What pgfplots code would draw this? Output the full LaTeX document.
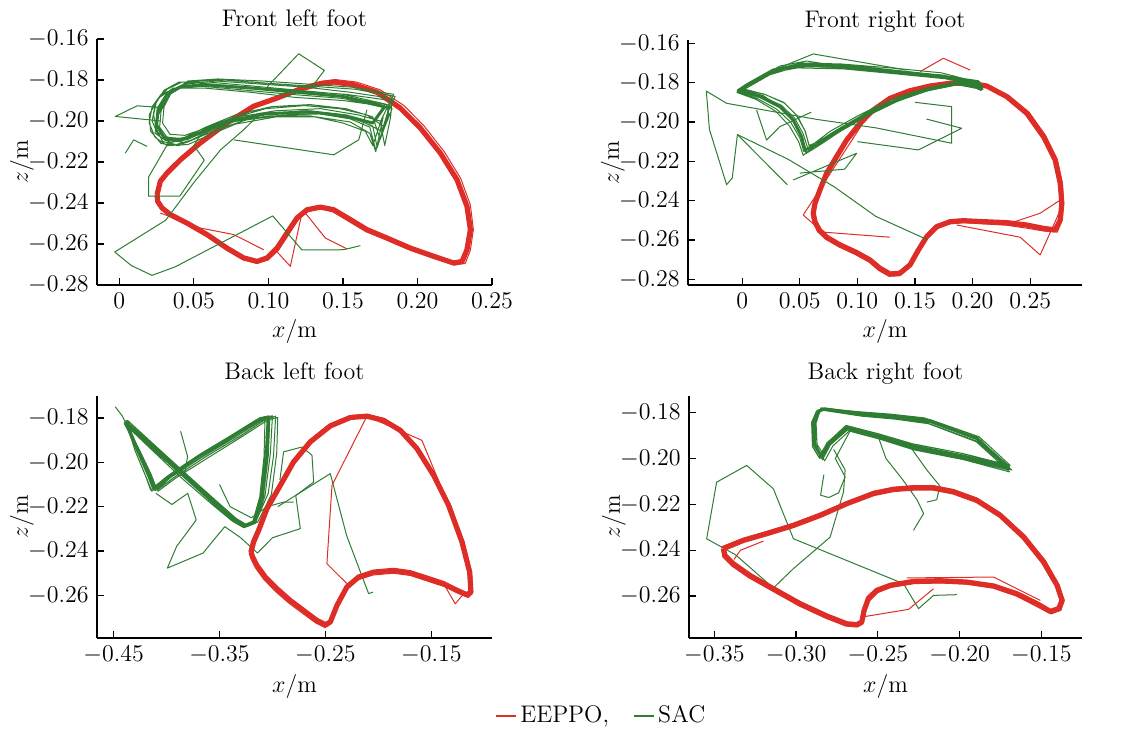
\documentclass[12pt,border=0pt]{standalone}
\usepackage{pgfplots}
\pgfplotsset{compat=1.18}
\definecolor{eeppo}{RGB}{222,45,38}
\definecolor{sac}{RGB}{46,125,50}
\pgfplotsset{
  panel/.style={scale only axis, anchor=south west, axis lines=left,
    axis line style={-,line width=0.6pt}, tick align=inside, major tick length=3.5pt,
    tick style={black,line width=0.6pt}, xlabel={$x$/m}, ylabel={$z$/m},
    yticklabel style={/pgf/number format/.cd,fixed,fixed zerofill,precision=2},
    xticklabel style={/pgf/number format/.cd,fixed,fixed zerofill,precision=2},
    scaled ticks=false, xlabel style={yshift=3pt},
    ylabel shift=-11pt},
  toptitle/.style={title style={at={(0.5,1)}, anchor=base, yshift=0pt}},
  bottitle/.style={title style={at={(0.5,1)}, anchor=base, yshift=2pt}},
  r/.style={color=eeppo, line width=0.5pt, line join=round, forget plot},
  rb/.style={color=eeppo, line width=2.6pt, line join=round, forget plot},
  g/.style={color=sac, line width=0.5pt, line join=round, forget plot},
  gb/.style={color=sac, line width=1.5pt, line join=round, forget plot},
}
\begin{document}
\begin{tikzpicture}
\useasboundingbox (0,0) rectangle (561.5pt,366pt);
%%%%%%%%%%%%%%%% Front left foot
\begin{axis}[panel, toptitle, at={(48.5pt,223.5pt)}, width=197.5pt, height=123pt,
  xmin=-0.015, xmax=0.25, ymin=-0.28, ymax=-0.16,
  xtick={0,0.05,0.10,0.15,0.20,0.25}, xticklabels={$0$,$0.05$,$0.10$,$0.15$,$0.20$,$0.25$},
  ytick={-0.28,-0.26,-0.24,-0.22,-0.20,-0.18,-0.16}, title={Front left foot}]
\addplot[rb] coordinates {(0.0253,-0.2359) (0.0275,-0.2294) (0.032,-0.2254) (0.041,-0.2189) (0.0543,-0.2107) (0.0722,-0.2010) (0.0901,-0.1928) (0.1058,-0.1888) (0.1214,-0.1844) (0.1348,-0.1818) (0.1438,-0.1810) (0.1572,-0.1823) (0.1729,-0.1860) (0.1885,-0.1937) (0.2019,-0.2034) (0.2153,-0.2156) (0.2265,-0.2286) (0.2332,-0.2416) (0.2355,-0.2530) (0.2332,-0.2628) (0.2299,-0.2685) (0.2243,-0.2693) (0.2109,-0.2660) (0.1952,-0.2620) (0.1796,-0.2571) (0.1661,-0.2530) (0.1550,-0.2481) (0.1438,-0.2433) (0.1348,-0.2420) (0.1259,-0.2433) (0.1192,-0.2473) (0.1125,-0.2546) (0.1058,-0.2620) (0.0991,-0.2668) (0.0924,-0.2685) (0.0834,-0.2668) (0.0722,-0.2620) (0.0588,-0.2554) (0.0454,-0.2498) (0.0342,-0.2457) (0.0286,-0.2424) (0.0257,-0.2392) (0.0253,-0.2359)};
\addplot[r] coordinates {(0.0265,-0.2350) (0.0290,-0.2285) (0.0335,-0.2245) (0.0425,-0.2180) (0.0560,-0.2098) (0.0740,-0.2002) (0.0915,-0.1920) (0.1070,-0.1878) (0.1225,-0.1833) (0.1360,-0.1806) (0.1450,-0.1798) (0.1590,-0.1810) (0.1750,-0.1848) (0.1910,-0.1925) (0.2045,-0.2025) (0.2180,-0.2150) (0.2290,-0.2280) (0.2355,-0.2410) (0.2375,-0.2530) (0.2355,-0.2630) (0.2320,-0.2695) (0.2250,-0.2702) (0.2100,-0.2668) (0.1945,-0.2628) (0.1790,-0.2580) (0.1655,-0.2540) (0.1540,-0.2490) (0.1430,-0.2442) (0.1355,-0.2428) (0.1268,-0.2440) (0.1200,-0.2480) (0.1135,-0.2555) (0.1068,-0.2630) (0.0998,-0.2678) (0.0920,-0.2694) (0.0828,-0.2676) (0.0715,-0.2628) (0.0580,-0.2560) (0.0448,-0.2505) (0.0335,-0.2462) (0.0278,-0.2428) (0.0250,-0.2395) (0.0265,-0.2350)};
\addplot[r] coordinates {(0.0275,-0.2449) (0.0543,-0.2522) (0.0767,-0.2554) (0.0968,-0.2628)};
\addplot[r] coordinates {(0.1225,-0.2449) (0.1147,-0.2709) (0.1060,-0.2640)};
\addplot[r] coordinates {(0.1248,-0.2449) (0.1382,-0.2571) (0.1527,-0.2624)};
\addplot[gb] coordinates {(0.178,-0.193) (0.150,-0.188) (0.120,-0.186) (0.090,-0.184) (0.060,-0.1825) (0.042,-0.183) (0.032,-0.187) (0.026,-0.194) (0.025,-0.202) (0.030,-0.208) (0.040,-0.2095) (0.054,-0.206) (0.072,-0.2005) (0.098,-0.1965) (0.128,-0.1955) (0.152,-0.1975) (0.170,-0.201) (0.178,-0.193)};
\addplot[g] coordinates {(0.180,-0.192) (0.150,-0.187) (0.120,-0.185) (0.090,-0.183) (0.060,-0.181) (0.040,-0.181) (0.030,-0.185) (0.024,-0.192) (0.022,-0.200) (0.026,-0.207) (0.034,-0.2105) (0.046,-0.209) (0.060,-0.204) (0.080,-0.198) (0.105,-0.195) (0.135,-0.194) (0.160,-0.197) (0.175,-0.200) (0.178,-0.212) (0.182,-0.198)
(0.183,-0.189) (0.155,-0.186) (0.125,-0.1835) (0.095,-0.182) (0.065,-0.1805) (0.045,-0.182) (0.034,-0.187) (0.028,-0.195) (0.027,-0.203) (0.032,-0.208) (0.042,-0.2085) (0.055,-0.205) (0.072,-0.2) (0.100,-0.196) (0.130,-0.196) (0.155,-0.199) (0.168,-0.203) (0.172,-0.214) (0.179,-0.200)
(0.181,-0.194) (0.150,-0.189) (0.115,-0.187) (0.085,-0.185) (0.055,-0.183) (0.036,-0.184) (0.026,-0.189) (0.020,-0.197) (0.021,-0.205) (0.028,-0.211) (0.040,-0.212) (0.052,-0.208) (0.068,-0.202) (0.095,-0.197) (0.125,-0.195) (0.150,-0.197) (0.165,-0.201) (0.176,-0.205) (0.180,-0.196)
(0.185,-0.188) (0.158,-0.1845) (0.128,-0.183) (0.098,-0.1815) (0.070,-0.180) (0.048,-0.1805) (0.036,-0.1845) (0.030,-0.191) (0.025,-0.199) (0.024,-0.206) (0.031,-0.2095) (0.044,-0.208) (0.058,-0.203) (0.078,-0.197) (0.102,-0.193) (0.128,-0.192) (0.152,-0.194) (0.170,-0.198) (0.175,-0.209) (0.181,-0.197)
(0.179,-0.192) (0.148,-0.188) (0.118,-0.186) (0.088,-0.184) (0.058,-0.1825) (0.040,-0.1835) (0.031,-0.188) (0.026,-0.196) (0.025,-0.204) (0.029,-0.210) (0.038,-0.2115) (0.050,-0.209) (0.064,-0.2045) (0.085,-0.1995) (0.110,-0.197) (0.138,-0.1965) (0.158,-0.199) (0.170,-0.2025) (0.173,-0.213) (0.178,-0.201)
(0.182,-0.190) (0.152,-0.187) (0.122,-0.1855) (0.092,-0.184) (0.062,-0.182) (0.042,-0.181) (0.032,-0.1845) (0.025,-0.190) (0.023,-0.197) (0.025,-0.205) (0.033,-0.2095) (0.045,-0.2105) (0.058,-0.2065) (0.075,-0.2005) (0.100,-0.1975) (0.128,-0.1975) (0.150,-0.201) (0.165,-0.205) (0.170,-0.212) (0.176,-0.199)
(0.184,-0.187) (0.156,-0.1835) (0.126,-0.182) (0.096,-0.1805) (0.066,-0.1795) (0.046,-0.1805) (0.035,-0.186) (0.030,-0.193) (0.029,-0.201) (0.034,-0.2065) (0.044,-0.207) (0.058,-0.2035) (0.074,-0.199) (0.098,-0.194) (0.124,-0.1925) (0.148,-0.194) (0.166,-0.197) (0.178,-0.203) (0.183,-0.194)
(0.180,-0.193) (0.150,-0.190) (0.118,-0.1885) (0.088,-0.186) (0.058,-0.184) (0.038,-0.184) (0.028,-0.187) (0.022,-0.193) (0.020,-0.201) (0.024,-0.208) (0.032,-0.212) (0.046,-0.2115) (0.060,-0.207) (0.078,-0.2015) (0.105,-0.198) (0.132,-0.198) (0.155,-0.2005) (0.168,-0.206) (0.172,-0.215) (0.177,-0.198)};
\addplot[g] coordinates {(0.1617,-0.2608) (0.1505,-0.2628) (0.1225,-0.2629) (0.1029,-0.2463) (0.0373,-0.2712) (0.0219,-0.2753) (0.008,-0.2705) (-0.0031,-0.2639) (0.0311,-0.2484) (0.050,-0.2300) (0.068,-0.2140) (0.0832,-0.2044) (0.095,-0.1960)};
\addplot[g] coordinates {(0.028,-0.2000) (-0.0027,-0.1978) (0.0119,-0.1926) (0.030,-0.1935)};
\addplot[g] coordinates {(0.004,-0.2157) (0.0096,-0.2092) (0.0186,-0.2124)};
\addplot[g] coordinates {(0.035,-0.2080) (0.0197,-0.2272) (0.0197,-0.2367) (0.0405,-0.2367) (0.0570,-0.2191) (0.050,-0.2120) (0.056,-0.2050)};
\addplot[g] coordinates {(0.0991,-0.1834) (0.1203,-0.1672) (0.1375,-0.1753) (0.1292,-0.1834)};
\addplot[g] coordinates {(0.0767,-0.2092) (0.1438,-0.2165) (0.1606,-0.2092) (0.1661,-0.1945)};
\end{axis}
%%%%%%%%%%%%%%%% Front right foot
\begin{axis}[panel, toptitle, at={(344pt,223.5pt)}, width=197pt, height=122.5pt,
  xmin=-0.047, xmax=0.295, ymin=-0.2829, ymax=-0.1583,
  xtick={0,0.05,0.10,0.15,0.20,0.25}, xticklabels={$0$,$0.05$,$0.10$,$0.15$,$0.20$,$0.25$},
  ytick={-0.28,-0.26,-0.24,-0.22,-0.20,-0.18,-0.16}, title={Front right foot}]
\addplot[rb] coordinates {(0.0617,-0.2464) (0.0632,-0.2414) (0.0675,-0.2346) (0.0733,-0.2261) (0.0820,-0.2176) (0.0907,-0.2092) (0.1023,-0.2007) (0.1138,-0.1939) (0.1283,-0.1880) (0.1457,-0.1841) (0.1631,-0.1817) (0.1805,-0.1803) (0.1979,-0.1803) (0.2123,-0.1817) (0.2297,-0.1871) (0.2471,-0.1956) (0.2616,-0.2075) (0.2717,-0.2193) (0.2761,-0.2312) (0.2775,-0.2414) (0.2761,-0.2498) (0.2717,-0.2549) (0.2616,-0.2541) (0.2471,-0.2524) (0.2297,-0.2512) (0.2094,-0.2507) (0.1921,-0.2502) (0.1805,-0.2507) (0.1689,-0.2532) (0.1602,-0.2583) (0.1530,-0.2651) (0.1457,-0.2727) (0.1370,-0.2769) (0.1283,-0.2773) (0.1196,-0.2744) (0.1110,-0.2702) (0.0994,-0.2664) (0.0849,-0.2625) (0.0733,-0.2586) (0.0669,-0.2549) (0.0632,-0.2507) (0.0617,-0.2464)};
\addplot[r] coordinates {(0.0600,-0.2470) (0.0615,-0.2420) (0.0660,-0.2350) (0.0720,-0.2265) (0.0808,-0.2180) (0.0895,-0.2095) (0.1010,-0.2010) (0.1125,-0.1942) (0.1270,-0.1882) (0.1445,-0.1842) (0.1620,-0.1815) (0.1800,-0.1798) (0.1985,-0.1798) (0.2135,-0.1812) (0.2315,-0.1866) (0.2490,-0.1950) (0.2635,-0.2070) (0.2735,-0.2190) (0.2780,-0.2312) (0.2790,-0.2415) (0.2775,-0.2505) (0.2735,-0.2560) (0.2620,-0.2555) (0.2470,-0.2540) (0.2295,-0.2525) (0.2094,-0.2518) (0.1921,-0.2512) (0.1800,-0.2518) (0.1680,-0.2545) (0.1590,-0.2595) (0.1518,-0.2665) (0.1445,-0.2742) (0.1365,-0.2782) (0.1275,-0.2785) (0.1185,-0.2755) (0.1100,-0.2712) (0.0985,-0.2675) (0.0840,-0.2635) (0.0722,-0.2595) (0.0655,-0.2558) (0.0617,-0.2512) (0.0600,-0.2470)};
\addplot[r] coordinates {(0.110,-0.196) (0.0530,-0.2473) (0.0700,-0.2560) (0.1283,-0.2586)};
\addplot[r] coordinates {(0.1544,-0.1744) (0.1747,-0.1676) (0.1979,-0.1736)};
\addplot[r] coordinates {(0.1863,-0.2524) (0.2413,-0.2586) (0.2587,-0.2676) (0.2775,-0.2431)};
\addplot[r] coordinates {(0.2300,-0.2520) (0.2587,-0.2464) (0.2761,-0.2397)};
\addplot[gb] coordinates {(0.2065,-0.1803) (0.1747,-0.1769) (0.1312,-0.1744) (0.0878,-0.1719) (0.0501,-0.1710) (0.0269,-0.1736) (0.0038,-0.1812) (-0.0035,-0.1841) (0.0154,-0.1871) (0.0327,-0.1922) (0.0443,-0.1990) (0.0516,-0.2075) (0.0545,-0.2142) (0.0617,-0.2125) (0.0791,-0.2058) (0.1023,-0.1981) (0.1312,-0.1897) (0.1602,-0.1837) (0.1892,-0.1803) (0.2080,-0.1829)};
\addplot[g] coordinates {(0.2065,-0.1803) (0.1747,-0.1769) (0.1312,-0.1744) (0.0878,-0.1719) (0.0501,-0.1710) (0.0269,-0.1736) (0.0038,-0.1812) (-0.0035,-0.1841) (0.0154,-0.1871) (0.0327,-0.1922) (0.0443,-0.1990) (0.0516,-0.2075) (0.0545,-0.2142) (0.0617,-0.2125) (0.0791,-0.2058) (0.1023,-0.1981) (0.1312,-0.1897) (0.1602,-0.1837) (0.1892,-0.1803) (0.2080,-0.1829)
(0.2050,-0.1790) (0.1700,-0.1760) (0.1300,-0.1735) (0.0900,-0.1710) (0.0520,-0.1700) (0.0300,-0.1730) (0.0080,-0.1800) (-0.0020,-0.1835) (0.0180,-0.1865) (0.0350,-0.1930) (0.0460,-0.2010) (0.0525,-0.2090) (0.0560,-0.2155) (0.0640,-0.2130) (0.0820,-0.2060) (0.1050,-0.1975) (0.1350,-0.1890) (0.1650,-0.1830) (0.1920,-0.1800) (0.2075,-0.1840)
(0.2070,-0.1815) (0.1760,-0.1780) (0.1330,-0.1755) (0.0880,-0.1730) (0.0480,-0.1725) (0.0250,-0.1750) (0.0060,-0.1820) (-0.0040,-0.1845) (0.0130,-0.1880) (0.0300,-0.1935) (0.0420,-0.2000) (0.0500,-0.2080) (0.0535,-0.2150) (0.0600,-0.2120) (0.0770,-0.2045) (0.1000,-0.1970) (0.1290,-0.1885) (0.1580,-0.1830) (0.1870,-0.1795) (0.2085,-0.1825)
(0.2060,-0.1800) (0.1730,-0.1750) (0.1290,-0.1725) (0.0860,-0.1705) (0.0510,-0.1700) (0.0280,-0.1745) (0.0050,-0.1815) (-0.0030,-0.1840) (0.0170,-0.1868) (0.0340,-0.1915) (0.0455,-0.1980) (0.0530,-0.2060) (0.0570,-0.2135) (0.0650,-0.2115) (0.0830,-0.2040) (0.1070,-0.1960) (0.1370,-0.1875) (0.1660,-0.1825) (0.1930,-0.1805) (0.2070,-0.1835)
(0.2080,-0.1810) (0.1770,-0.1775) (0.1340,-0.1750) (0.0900,-0.1725) (0.0530,-0.1715) (0.0310,-0.1735) (0.0100,-0.1790) (0.0000,-0.1830) (0.0200,-0.1860) (0.0370,-0.1905) (0.0480,-0.1970) (0.0550,-0.2050) (0.0580,-0.2120) (0.0660,-0.2100) (0.0850,-0.2030) (0.1090,-0.1950) (0.1390,-0.1870) (0.1690,-0.1820) (0.1950,-0.1800) (0.2060,-0.1820)
(0.2050,-0.1805) (0.1720,-0.1765) (0.1280,-0.1740) (0.0850,-0.1715) (0.0470,-0.1720) (0.0240,-0.1760) (0.0030,-0.1830) (-0.0045,-0.1850) (0.0120,-0.1885) (0.0290,-0.1945) (0.0410,-0.2020) (0.0490,-0.2100) (0.0530,-0.2170) (0.0590,-0.2140) (0.0760,-0.2070) (0.0990,-0.1990) (0.1280,-0.1905) (0.1570,-0.1845) (0.1860,-0.1810) (0.2090,-0.1835)
(0.2060,-0.1795) (0.1740,-0.1770) (0.1320,-0.1745) (0.0890,-0.1720) (0.0560,-0.1690) (0.0330,-0.1715) (0.0090,-0.1795) (-0.0010,-0.1832) (0.0190,-0.1858) (0.0360,-0.1900) (0.0470,-0.1965) (0.0545,-0.2045) (0.0585,-0.2125) (0.0670,-0.2110) (0.0860,-0.2045) (0.1100,-0.1965) (0.1400,-0.1880) (0.1700,-0.1825) (0.1960,-0.1800) (0.2085,-0.1815)
(0.2070,-0.1808) (0.1750,-0.1762) (0.1300,-0.1738) (0.0870,-0.1712) (0.0500,-0.1705) (0.0270,-0.1740) (0.0060,-0.1808) (-0.0030,-0.1843) (0.0160,-0.1875) (0.0330,-0.1925) (0.0450,-0.1995) (0.0520,-0.2075) (0.0555,-0.2160) (0.0625,-0.2135) (0.0800,-0.2060) (0.1030,-0.1978) (0.1320,-0.1893) (0.1610,-0.1835) (0.1900,-0.1803) (0.2065,-0.1828)};
\addplot[g] coordinates {(0.0392,-0.2319) (-0.0041,-0.2064) (-0.0086,-0.2285) (-0.0135,-0.2319) (-0.0284,-0.2038) (-0.0311,-0.1843) (-0.0135,-0.1905) (0.0649,-0.1987) (0.1162,-0.2030) (0.1819,-0.2108) (0.1819,-0.1922) (0.1500,-0.1900)};
\addplot[g] coordinates {(-0.0041,-0.2064) (0.0400,-0.2190) (0.0800,-0.2330) (0.1160,-0.2480) (0.1602,-0.2597)};
\addplot[g] coordinates {(0.0125,-0.1939) (0.0212,-0.2092) (0.0327,-0.2024) (0.0600,-0.1950)};
\addplot[g] coordinates {(0.0443,-0.2295) (0.0994,-0.2159) (0.0890,-0.2240) (0.0500,-0.2260)};
\addplot[g] coordinates {(0.1000,-0.2100) (0.1530,-0.2142) (0.1906,-0.2032) (0.1600,-0.1985)};
\addplot[g] coordinates {(0.0300,-0.1730) (0.0617,-0.1654) (0.1428,-0.1736)};
\end{axis}
%%%%%%%%%%%%%%%% Back left foot
\begin{axis}[panel, bottitle, at={(48.5pt,47pt)}, width=197.5pt, height=121pt,
  xmin=-0.4657, xmax=-0.0927, ymin=-0.2792, ymax=-0.1701,
  xtick={-0.45,-0.35,-0.25,-0.15},
  ytick={-0.26,-0.24,-0.22,-0.20,-0.18}, title={Back left foot}]
\addplot[gb] coordinates {(-0.4390,-0.1818) (-0.4154,-0.1923) (-0.3839,-0.2059) (-0.3556,-0.2179) (-0.3367,-0.2254) (-0.3257,-0.2284) (-0.3178,-0.2269) (-0.3099,-0.2149) (-0.3052,-0.1968) (-0.3036,-0.1795) (-0.3115,-0.1803) (-0.3367,-0.1878) (-0.3682,-0.1968) (-0.3965,-0.2059) (-0.4122,-0.2119) (-0.4170,-0.2059) (-0.4280,-0.1940) (-0.4390,-0.1818)};
\addplot[g] coordinates {(-0.4390,-0.1818) (-0.4154,-0.1923) (-0.3839,-0.2059) (-0.3556,-0.2179) (-0.3367,-0.2254) (-0.3257,-0.2284) (-0.3178,-0.2269) (-0.3099,-0.2149) (-0.3052,-0.1968) (-0.3036,-0.1795) (-0.3115,-0.1803) (-0.3367,-0.1878) (-0.3682,-0.1968) (-0.3965,-0.2059) (-0.4122,-0.2119) (-0.4170,-0.2059) (-0.4280,-0.1940)
(-0.4370,-0.1810) (-0.4130,-0.1915) (-0.3820,-0.2050) (-0.3540,-0.2170) (-0.3350,-0.2250) (-0.3240,-0.2290) (-0.3160,-0.2275) (-0.3070,-0.2150) (-0.3020,-0.1960) (-0.3000,-0.1790) (-0.3080,-0.1800) (-0.3330,-0.1870) (-0.3650,-0.1960) (-0.3940,-0.2050) (-0.4100,-0.2110) (-0.4150,-0.2050) (-0.4265,-0.1935)
(-0.4400,-0.1825) (-0.4170,-0.1930) (-0.3860,-0.2070) (-0.3570,-0.2190) (-0.3380,-0.2265) (-0.3270,-0.2295) (-0.3190,-0.2280) (-0.3110,-0.2160) (-0.3070,-0.1980) (-0.3050,-0.1805) (-0.3130,-0.1812) (-0.3390,-0.1890) (-0.3700,-0.1985) (-0.3990,-0.2075) (-0.4140,-0.2130) (-0.4190,-0.2070) (-0.4295,-0.1950)
(-0.4380,-0.1815) (-0.4140,-0.1918) (-0.3830,-0.2052) (-0.3550,-0.2172) (-0.3360,-0.2248) (-0.3250,-0.2280) (-0.3150,-0.2260) (-0.3040,-0.2140) (-0.2990,-0.1970) (-0.2970,-0.1792) (-0.3060,-0.1805) (-0.3300,-0.1880) (-0.3630,-0.1975) (-0.3920,-0.2065) (-0.4090,-0.2125) (-0.4160,-0.2065) (-0.4270,-0.1945)
(-0.4395,-0.1822) (-0.4160,-0.1928) (-0.3845,-0.2064) (-0.3560,-0.2186) (-0.3370,-0.2262) (-0.3262,-0.2292) (-0.3190,-0.2278) (-0.3120,-0.2155) (-0.3080,-0.1975) (-0.3070,-0.1800) (-0.3150,-0.1808) (-0.3400,-0.1882) (-0.3720,-0.1975) (-0.4000,-0.2065) (-0.4150,-0.2125) (-0.4200,-0.2060) (-0.4300,-0.1945)
(-0.4385,-0.1812) (-0.4150,-0.1920) (-0.3835,-0.2056) (-0.3555,-0.2176) (-0.3365,-0.2250) (-0.3255,-0.2286) (-0.3140,-0.2270) (-0.3010,-0.2145) (-0.2960,-0.1960) (-0.2950,-0.1798) (-0.3040,-0.1808) (-0.3290,-0.1885) (-0.3610,-0.1980) (-0.3910,-0.2070) (-0.4080,-0.2130) (-0.4140,-0.2070) (-0.4255,-0.1950)
(-0.4375,-0.1818) (-0.4145,-0.1925) (-0.3830,-0.2062) (-0.3548,-0.2182) (-0.3358,-0.2258) (-0.3250,-0.2288) (-0.3170,-0.2272) (-0.3085,-0.2152) (-0.3040,-0.1972) (-0.3025,-0.1802) (-0.3100,-0.1810) (-0.3350,-0.1886) (-0.3670,-0.1978) (-0.3960,-0.2068) (-0.4110,-0.2128) (-0.4165,-0.2068) (-0.4275,-0.1948) (-0.4390,-0.1818)};
\addplot[g] coordinates {(-0.4484,-0.1750) (-0.4420,-0.1790) (-0.4390,-0.1818)};
\addplot[g] coordinates {(-0.3867,-0.1860) (-0.3802,-0.1973) (-0.3830,-0.2060)};
\addplot[g] coordinates {(-0.4100,-0.2140) (-0.3950,-0.2190) (-0.3800,-0.2140) (-0.3720,-0.2260) (-0.3905,-0.2379) (-0.3993,-0.2477) (-0.3655,-0.2409) (-0.3553,-0.2349) (-0.3450,-0.2290) (-0.3300,-0.2340) (-0.3142,-0.2409) (-0.3000,-0.2340) (-0.2737,-0.2299) (-0.2780,-0.2150) (-0.2611,-0.2089) (-0.2627,-0.1968) (-0.2722,-0.1931) (-0.2895,-0.1953) (-0.2930,-0.2080)};
\addplot[g] coordinates {(-0.2950,-0.2200) (-0.2454,-0.2051) (-0.2300,-0.2330) (-0.2092,-0.2592) (-0.2050,-0.2585)};
\addplot[g] coordinates {(-0.3500,-0.2100) (-0.3400,-0.2200) (-0.3200,-0.2250) (-0.3050,-0.2200) (-0.2900,-0.2180) (-0.2800,-0.2180)};
\addplot[rb] coordinates {(-0.3203,-0.2405) (-0.3178,-0.2359) (-0.3131,-0.2307) (-0.3052,-0.2209) (-0.2926,-0.2104) (-0.2800,-0.1998) (-0.2643,-0.1908) (-0.2454,-0.1836) (-0.2265,-0.1798) (-0.2108,-0.1792) (-0.1950,-0.1811) (-0.1793,-0.1856) (-0.1636,-0.1938) (-0.1478,-0.2059) (-0.1337,-0.2194) (-0.1211,-0.2359) (-0.1138,-0.2495) (-0.1126,-0.2585) (-0.1164,-0.2597) (-0.1258,-0.2577) (-0.1384,-0.2547) (-0.1541,-0.2522) (-0.1699,-0.2498) (-0.1856,-0.2487) (-0.2045,-0.2495) (-0.2186,-0.2517) (-0.2297,-0.2562) (-0.2391,-0.2645) (-0.2454,-0.2720) (-0.2501,-0.2732) (-0.2580,-0.2713) (-0.2706,-0.2668) (-0.2832,-0.2623) (-0.2958,-0.2570) (-0.3068,-0.2517) (-0.3147,-0.2465) (-0.3187,-0.2427) (-0.3203,-0.2405)};
\addplot[r] coordinates {(-0.3220,-0.2400) (-0.3195,-0.2355) (-0.3145,-0.2302) (-0.3065,-0.2205) (-0.2940,-0.2100) (-0.2815,-0.1993) (-0.2655,-0.1902) (-0.2462,-0.1828) (-0.2268,-0.1790) (-0.2105,-0.1784) (-0.1942,-0.1804) (-0.1780,-0.1850) (-0.1620,-0.1935) (-0.1460,-0.2058) (-0.1318,-0.2195) (-0.1190,-0.2360) (-0.1120,-0.2495) (-0.1110,-0.2590) (-0.1150,-0.2610) (-0.1250,-0.2590) (-0.1380,-0.2560) (-0.1540,-0.2535) (-0.1700,-0.2510) (-0.1860,-0.2500) (-0.2050,-0.2508) (-0.2195,-0.2530) (-0.2310,-0.2575) (-0.2405,-0.2660) (-0.2465,-0.2735) (-0.2505,-0.2745) (-0.2590,-0.2725) (-0.2718,-0.2680) (-0.2845,-0.2635) (-0.2972,-0.2582) (-0.3082,-0.2528) (-0.3162,-0.2475) (-0.3203,-0.2435) (-0.3220,-0.2400)};
\addplot[r] coordinates {(-0.2108,-0.1792) (-0.2438,-0.2104) (-0.2486,-0.2457) (-0.2265,-0.2562)};
\addplot[r] coordinates {(-0.2108,-0.1792) (-0.1589,-0.1901) (-0.1258,-0.2284) (-0.1150,-0.2495)};
\addplot[r] coordinates {(-0.1384,-0.2547) (-0.1274,-0.2638) (-0.1190,-0.2590)};
\end{axis}
%%%%%%%%%%%%%%%% Back right foot
\begin{axis}[panel, bottitle, at={(344.5pt,47pt)}, width=196.5pt, height=121pt,
  xmin=-0.3655, xmax=-0.1251, ymin=-0.2783, ymax=-0.1727,
  xtick={-0.35,-0.30,-0.25,-0.20,-0.15},
  ytick={-0.26,-0.24,-0.22,-0.20,-0.18}, title={Back right foot},
  legend style={at={(-0.221,-0.322)}, anchor=center, draw=none, fill=none,
    legend columns=2, /tikz/every even column/.append style={column sep=10pt}},
  legend image code/.code={\draw[#1] (0pt,0pt) -- (10pt,0pt);}]
\addlegendimage{color=eeppo, line width=0.6pt}
\addlegendentry{EEPPO,}
\addlegendimage{color=sac, line width=0.6pt}
\addlegendentry{SAC}
\addplot[gb] coordinates {(-0.2833,-0.1783) (-0.2608,-0.1804) (-0.2404,-0.1815) (-0.2200,-0.1833) (-0.1894,-0.1913) (-0.1700,-0.2037) (-0.1996,-0.1986) (-0.2302,-0.1943) (-0.2506,-0.1899) (-0.2690,-0.1863) (-0.2792,-0.1928) (-0.2843,-0.1993) (-0.2884,-0.1943) (-0.2890,-0.1841) (-0.2863,-0.1794) (-0.2833,-0.1783)};
\addplot[g] coordinates {(-0.2833,-0.1783) (-0.2608,-0.1804) (-0.2404,-0.1815) (-0.2200,-0.1833) (-0.1894,-0.1913) (-0.1700,-0.2037) (-0.1996,-0.1986) (-0.2302,-0.1943) (-0.2506,-0.1899) (-0.2690,-0.1863) (-0.2792,-0.1928) (-0.2843,-0.1993) (-0.2884,-0.1943) (-0.2890,-0.1841) (-0.2863,-0.1794)
(-0.2820,-0.1780) (-0.2590,-0.1800) (-0.2390,-0.1812) (-0.2180,-0.1830) (-0.1880,-0.1905) (-0.1690,-0.2030) (-0.1980,-0.1978) (-0.2290,-0.1935) (-0.2495,-0.1892) (-0.2680,-0.1858) (-0.2780,-0.1920) (-0.2830,-0.1985) (-0.2872,-0.1938) (-0.2878,-0.1838) (-0.2850,-0.1790)
(-0.2845,-0.1786) (-0.2620,-0.1808) (-0.2420,-0.1820) (-0.2215,-0.1840) (-0.1905,-0.1922) (-0.1710,-0.2048) (-0.2010,-0.1995) (-0.2315,-0.1952) (-0.2515,-0.1908) (-0.2700,-0.1872) (-0.2805,-0.1936) (-0.2855,-0.2000) (-0.2895,-0.1950) (-0.2900,-0.1845) (-0.2870,-0.1798)
(-0.2830,-0.1790) (-0.2600,-0.1815) (-0.2395,-0.1828) (-0.2190,-0.1848) (-0.1885,-0.1930) (-0.1680,-0.2050) (-0.1985,-0.2000) (-0.2295,-0.1958) (-0.2500,-0.1912) (-0.2685,-0.1875) (-0.2790,-0.1940) (-0.2838,-0.2005) (-0.2880,-0.1955) (-0.2888,-0.1850) (-0.2858,-0.1800)
(-0.2838,-0.1782) (-0.2612,-0.1798) (-0.2410,-0.1808) (-0.2205,-0.1825) (-0.1900,-0.1900) (-0.1720,-0.2030) (-0.2000,-0.1975) (-0.2305,-0.1935) (-0.2510,-0.1890) (-0.2695,-0.1855) (-0.2795,-0.1922) (-0.2848,-0.1990) (-0.2890,-0.1940) (-0.2895,-0.1835) (-0.2866,-0.1788)
(-0.2825,-0.1785) (-0.2595,-0.1810) (-0.2385,-0.1822) (-0.2170,-0.1842) (-0.1870,-0.1920) (-0.1695,-0.2058) (-0.1975,-0.2005) (-0.2280,-0.1962) (-0.2490,-0.1915) (-0.2675,-0.1880) (-0.2775,-0.1945) (-0.2825,-0.2010) (-0.2868,-0.1960) (-0.2882,-0.1855) (-0.2855,-0.1795)
(-0.2848,-0.1779) (-0.2625,-0.1795) (-0.2425,-0.1806) (-0.2220,-0.1822) (-0.1915,-0.1898) (-0.1705,-0.2040) (-0.2015,-0.1990) (-0.2320,-0.1948) (-0.2520,-0.1902) (-0.2705,-0.1866) (-0.2810,-0.1930) (-0.2860,-0.1995) (-0.2900,-0.1948) (-0.2905,-0.1842) (-0.2875,-0.1792)
(-0.2835,-0.1788) (-0.2605,-0.1812) (-0.2400,-0.1825) (-0.2195,-0.1845) (-0.1890,-0.1925) (-0.1700,-0.2045) (-0.1990,-0.1992) (-0.2298,-0.1950) (-0.2502,-0.1905) (-0.2688,-0.1870) (-0.2788,-0.1935) (-0.2840,-0.2003) (-0.2882,-0.1952) (-0.2892,-0.1848) (-0.2862,-0.1797)};
\addplot[g] coordinates {(-0.2670,-0.1880) (-0.2760,-0.2000) (-0.2700,-0.2080) (-0.2740,-0.2150) (-0.2800,-0.2170) (-0.2850,-0.2160) (-0.2830,-0.2070)};
\addplot[g] coordinates {(-0.2500,-0.1900) (-0.2450,-0.2000) (-0.2350,-0.2090) (-0.2260,-0.2180) (-0.2220,-0.2240) (-0.2282,-0.2313)};
\addplot[g] coordinates {(-0.2300,-0.1950) (-0.2200,-0.2050) (-0.2120,-0.2120) (-0.2140,-0.2180) (-0.2200,-0.2190)};
\addplot[g] coordinates {(-0.2016,-0.2594) (-0.2159,-0.2597) (-0.2251,-0.2655) (-0.2343,-0.2546) (-0.3016,-0.2350) (-0.3139,-0.2132) (-0.3302,-0.2030) (-0.3486,-0.2103) (-0.3547,-0.2350) (-0.3370,-0.2420) (-0.3139,-0.2565) (-0.3016,-0.2480) (-0.2792,-0.2343) (-0.2710,-0.2146) (-0.2700,-0.2050) (-0.2770,-0.1960)};
\addplot[rb] coordinates {(-0.3445,-0.2393) (-0.3322,-0.2357) (-0.3180,-0.2328) (-0.3016,-0.2292) (-0.2853,-0.2248) (-0.2690,-0.2197) (-0.2527,-0.2153) (-0.2404,-0.2135) (-0.2282,-0.2129) (-0.2159,-0.2129) (-0.2037,-0.2146) (-0.1894,-0.2183) (-0.1751,-0.2248) (-0.1608,-0.2343) (-0.1486,-0.2452) (-0.1404,-0.2553) (-0.1373,-0.2619) (-0.1394,-0.2655) (-0.1445,-0.2667) (-0.1527,-0.2633) (-0.1649,-0.2590) (-0.1792,-0.2556) (-0.1955,-0.2539) (-0.2118,-0.2533) (-0.2282,-0.2536) (-0.2424,-0.2553) (-0.2506,-0.2575) (-0.2557,-0.2609) (-0.2584,-0.2663) (-0.2598,-0.2713) (-0.2629,-0.2725) (-0.2690,-0.2721) (-0.2812,-0.2687) (-0.2976,-0.2633) (-0.3139,-0.2568) (-0.3282,-0.2510) (-0.3384,-0.2459) (-0.3435,-0.2423) (-0.3445,-0.2393)};
\addplot[r] coordinates {(-0.3455,-0.2385) (-0.3325,-0.2348) (-0.3180,-0.2318) (-0.3016,-0.2282) (-0.2853,-0.2238) (-0.2690,-0.2188) (-0.2527,-0.2143) (-0.2404,-0.2125) (-0.2282,-0.2118) (-0.2159,-0.2118) (-0.2037,-0.2135) (-0.1894,-0.2172) (-0.1751,-0.2237) (-0.1600,-0.2335) (-0.1475,-0.2445) (-0.1392,-0.2550) (-0.1360,-0.2620) (-0.1380,-0.2662) (-0.1440,-0.2678) (-0.1530,-0.2645) (-0.1652,-0.2600) (-0.1795,-0.2565) (-0.1955,-0.2548) (-0.2118,-0.2543) (-0.2282,-0.2546) (-0.2420,-0.2562) (-0.2500,-0.2585) (-0.2550,-0.2620) (-0.2578,-0.2672) (-0.2592,-0.2722) (-0.2625,-0.2735) (-0.2695,-0.2731) (-0.2818,-0.2697) (-0.2982,-0.2643) (-0.3145,-0.2578) (-0.3290,-0.2520) (-0.3395,-0.2468) (-0.3448,-0.2430) (-0.3455,-0.2385)};
\addplot[r] coordinates {(-0.2584,-0.2690) (-0.2312,-0.2658) (-0.2159,-0.2568)};
\addplot[r] coordinates {(-0.2322,-0.2521) (-0.1792,-0.2517) (-0.1506,-0.2619)};
\addplot[r] coordinates {(-0.3380,-0.2440) (-0.3340,-0.2400) (-0.3200,-0.2360)};
\end{axis}
\end{tikzpicture}
\end{document}
